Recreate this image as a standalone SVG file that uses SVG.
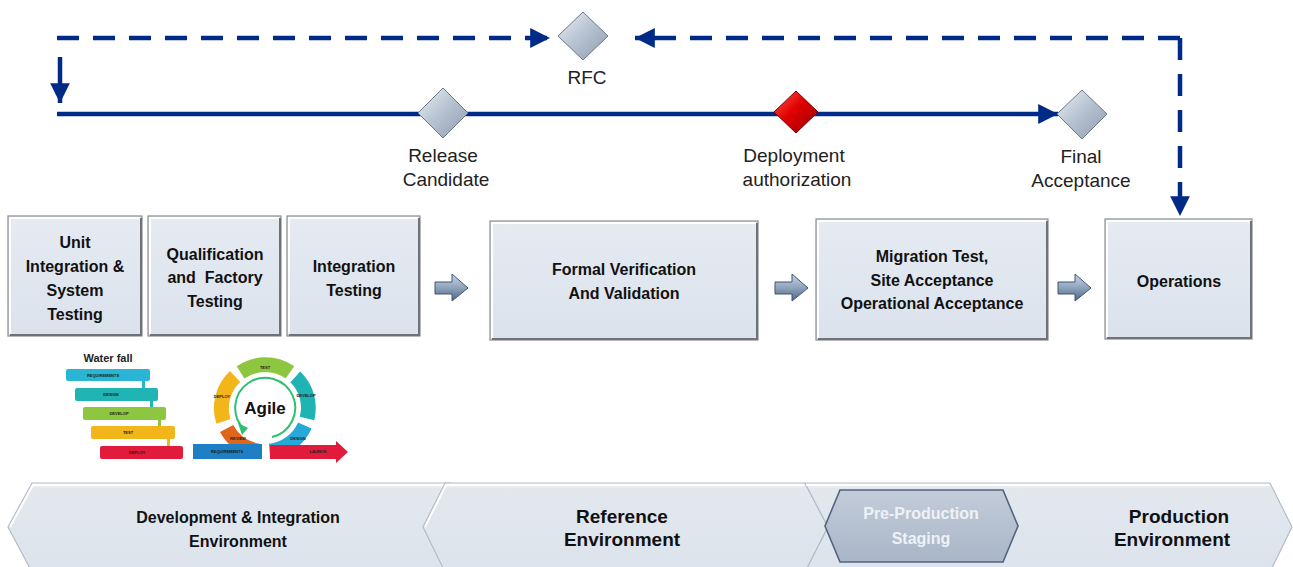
<svg xmlns="http://www.w3.org/2000/svg" width="1293" height="567" viewBox="0 0 1293 567">
  <defs>
    <linearGradient id="gDiamond" x1="0" y1="0" x2="1" y2="1">
      <stop offset="0" stop-color="#eef2f6"/>
      <stop offset="0.45" stop-color="#b9c5d3"/>
      <stop offset="1" stop-color="#8e9cae"/>
    </linearGradient>
    <linearGradient id="gRed" x1="0" y1="0" x2="1" y2="1">
      <stop offset="0" stop-color="#ff5a50"/>
      <stop offset="0.45" stop-color="#e00000"/>
      <stop offset="1" stop-color="#9a0000"/>
    </linearGradient>
    <linearGradient id="gArrow" x1="0" y1="0" x2="0" y2="1">
      <stop offset="0" stop-color="#c9d6e4"/>
      <stop offset="0.5" stop-color="#8fa4bd"/>
      <stop offset="1" stop-color="#4f6683"/>
    </linearGradient>
    <linearGradient id="gBox" x1="0" y1="0" x2="0" y2="1">
      <stop offset="0" stop-color="#e6ebf2"/>
      <stop offset="1" stop-color="#dbe2ec"/>
    </linearGradient>
    <linearGradient id="gBand" x1="0" y1="0" x2="0" y2="1">
      <stop offset="0" stop-color="#f4f6f9"/>
      <stop offset="0.06" stop-color="#e3e8ef"/>
      <stop offset="1" stop-color="#dce3ec"/>
    </linearGradient>
    <linearGradient id="gStage" x1="0" y1="0" x2="0" y2="1">
      <stop offset="0" stop-color="#c3ccd9"/>
      <stop offset="1" stop-color="#a9b6c8"/>
    </linearGradient>
    <marker id="ah" viewBox="0 0 10 10" refX="10" refY="5" markerWidth="5" markerHeight="4.4" markerUnits="strokeWidth" orient="auto">
      <path d="M0,0 L10,5 L0,10 Z" fill="#002a87"/>
    </marker>
    <marker id="ahs" viewBox="0 0 10 10" refX="10" refY="5" markerWidth="5" markerHeight="4.4" markerUnits="strokeWidth" orient="auto">
      <path d="M0,0 L10,5 L0,10 Z" fill="#002a87"/>
    </marker>
    <style>
      .lbl { font-family: "Liberation Sans", Arial, sans-serif; font-size: 19px; fill: #222; text-anchor: middle; }
      .box { fill: url(#gBox); stroke: #8a8d92; stroke-width: 1.2; }
      .hi { fill: none; stroke: #ffffff; stroke-width: 2; }
      .sh { fill: none; stroke: #6f7378; stroke-width: 2; }
      .bt { font-family: "Liberation Sans", Arial, sans-serif; font-weight: bold; font-size: 16px; fill: #111; text-anchor: middle; }
      .bt2 { font-family: "Liberation Sans", Arial, sans-serif; font-weight: bold; font-size: 19px; fill: #111; text-anchor: middle; }
      .band { fill: url(#gBand); stroke: #b5bcc6; stroke-width: 1.2; }
      .dash { fill: none; stroke: #002a87; stroke-width: 4.5; stroke-dasharray: 22 14; }
      .solid { fill: none; stroke: #002a87; stroke-width: 4.5; }
      .blk { fill: url(#gArrow); stroke: #3f5572; stroke-width: 1; }
      .dia { fill: url(#gDiamond); stroke: #6b7888; stroke-width: 1; }
      .tiny { font-family: "Liberation Sans", Arial, sans-serif; font-size: 4px; fill: #1a1a1a; text-anchor: middle; font-weight: bold; }
    </style>
  </defs>

  <rect width="1293" height="567" fill="#ffffff"/>

  <!-- connectors: feedback loop and main timeline -->
  <g id="connectors">
    <path class="dash" d="M57,38 H550" marker-end="url(#ah)"/>
    <path class="dash" d="M1180,38 H635" marker-end="url(#ah)"/>
    <path class="dash" d="M1180,38 V216" marker-end="url(#ah)"/>
    <path class="solid" d="M60,57 V103" marker-end="url(#ah)"/>
    <path class="solid" d="M57,114 H1058" marker-end="url(#ahs)"/>
  </g>

  <!-- milestones -->
  <g id="rfc">
    <path class="dia" d="M583,12 L608,36 L583,60 L558,36 Z"/>
    <text class="lbl" x="587" y="84">RFC</text>
  </g>
  <g id="release-candidate">
    <path class="dia" d="M443,88 L468,113 L443,138 L418,113 Z"/>
    <text class="lbl" x="443" y="162">Release</text>
    <text class="lbl" x="446" y="186">Candidate</text>
  </g>
  <g id="deployment-authorization">
    <path d="M796,91 L818,112 L796,133 L774,112 Z" fill="url(#gRed)" stroke="#7a0000" stroke-width="1"/>
    <text class="lbl" x="794" y="162">Deployment</text>
    <text class="lbl" x="797" y="186">authorization</text>
  </g>
  <g id="final-acceptance">
    <path class="dia" d="M1082,90 L1107,114 L1082,139 L1057,114 Z"/>
    <text class="lbl" x="1081" y="163">Final</text>
    <text class="lbl" x="1081" y="187">Acceptance</text>
  </g>

  <!-- test stages -->
  <g id="unit-integration">
    <rect class="box" x="8" y="216" width="134" height="120"/>
    <path class="hi" d="M10,334 V218 H140"/>
    <path class="sh" d="M10,335 H141 V218"/>
    <text class="bt" x="75" y="248">Unit</text>
    <text class="bt" x="75" y="272">Integration &amp;</text>
    <text class="bt" x="75" y="296">System</text>
    <text class="bt" x="75" y="320">Testing</text>
  </g>
  <g id="qualification">
    <rect class="box" x="148" y="216" width="133" height="120"/>
    <path class="hi" d="M150,334 V218 H279"/>
    <path class="sh" d="M150,335 H280 V218"/>
    <text class="bt" x="215" y="260">Qualification</text>
    <text class="bt" x="215" y="283" xml:space="preserve">and  Factory</text>
    <text class="bt" x="215" y="307">Testing</text>
  </g>
  <g id="integration-testing">
    <rect class="box" x="287" y="216" width="133" height="120"/>
    <path class="hi" d="M289,334 V218 H418"/>
    <path class="sh" d="M289,335 H419 V218"/>
    <text class="bt" x="354" y="272">Integration</text>
    <text class="bt" x="354" y="296">Testing</text>
  </g>
  <g id="formal-verification">
    <rect class="box" x="490" y="221" width="268" height="119"/>
    <path class="hi" d="M492,338 V223 H756"/>
    <path class="sh" d="M492,339 H757 V223"/>
    <text class="bt" x="624" y="275">Formal Verification</text>
    <text class="bt" x="624" y="299">And Validation</text>
  </g>
  <g id="migration-test">
    <rect class="box" x="816" y="219" width="232" height="121"/>
    <path class="hi" d="M818,338 V221 H1046"/>
    <path class="sh" d="M818,339 H1047 V221"/>
    <text class="bt" x="932" y="262">Migration Test,</text>
    <text class="bt" x="932" y="286">Site Acceptance</text>
    <text class="bt" x="932" y="309">Operational Acceptance</text>
  </g>
  <g id="operations">
    <rect class="box" x="1105" y="219" width="147" height="120"/>
    <path class="hi" d="M1107,337 V221 H1250"/>
    <path class="sh" d="M1107,338 H1251 V221"/>
    <text class="bt" x="1179" y="287">Operations</text>
  </g>

  <!-- block arrows between stages -->
  <g id="stage-arrows">
    <path class="blk" d="M435,282 H452 V274 L468,288 L452,301 V294 H435 Z"/>
    <path class="blk" d="M775,282 H792 V274 L808,288 L792,301 V294 H775 Z"/>
    <path class="blk" d="M1058,282 H1075 V274 L1091,288 L1075,301 V294 H1058 Z"/>
  </g>

  <!-- waterfall illustration -->
  <g id="waterfall">
    <text x="108" y="362" font-family="Liberation Sans, Arial, sans-serif" font-weight="bold" font-size="11" fill="#222" text-anchor="middle">Water fall</text>
    <rect x="142" y="380" width="3" height="9" fill="#2bb5d4"/>
    <rect x="150" y="400" width="3" height="9" fill="#21b4b4"/>
    <rect x="158" y="419" width="3" height="9" fill="#8dc63f"/>
    <rect x="167" y="438" width="3" height="9" fill="#f2b51a"/>
    <rect x="66" y="369" width="84" height="12" rx="2" fill="#2bb5d4"/>
    <rect x="75" y="388" width="83" height="13" rx="2" fill="#21b4b4"/>
    <rect x="83" y="407" width="83" height="13" rx="2" fill="#8dc63f"/>
    <rect x="91" y="426" width="84" height="13" rx="2" fill="#f2b51a"/>
    <rect x="100" y="446" width="83" height="13" rx="2" fill="#e31b3b"/>
    <text class="tiny" x="103" y="377">REQUIREMENTS</text>
    <text class="tiny" x="111" y="396">DESIGN</text>
    <text class="tiny" x="119" y="415">DEVELOP</text>
    <text class="tiny" x="128" y="434">TEST</text>
    <text class="tiny" x="137" y="454">DEPLOY</text>
  </g>

  <!-- agile cycle illustration -->
  <g id="agile">
    <!-- ring segments, centre (265,408), r 51 / 36 -->
    <path d="M236.7,366.2 A51,51 0 0 1 294.3,366.2 L285.6,378.5 A36,36 0 0 0 244.4,378.5 Z" fill="#8dc63f"/>
    <path d="M300.3,371.5 A51,51 0 0 1 314.3,420.2 L299.8,416.8 A36,36 0 0 0 290.4,382.2 Z" fill="#1fb3b3"/>
    <path d="M311.6,428.6 A51,51 0 0 1 270.3,458.7 L268.9,443.8 A36,36 0 0 0 298.0,422.4 Z" fill="#27a9d8"/>
    <path d="M257.0,458.4 A51,51 0 0 1 220.0,432.0 L233.2,425.0 A36,36 0 0 0 259.3,443.6 Z" fill="#e0661c"/>
    <path d="M216.4,423.8 A51,51 0 0 1 229.9,371.0 L240.2,381.9 A36,36 0 0 0 230.5,419.1 Z" fill="#f2b51a"/>
    <!-- inner circular arrow -->
    <path d="M272,437 A30,30 0 1 0 244,429" fill="none" stroke="#2fbf71" stroke-width="2"/>
    <path d="M238,423 L248,428 L242,435 Z" fill="#2fbf71"/>
    <text x="265" y="414" font-family="Liberation Sans, Arial, sans-serif" font-weight="bold" font-size="17" fill="#111" text-anchor="middle">Agile</text>
    <!-- requirements bar and launch arrow -->
    <rect x="193" y="444" width="69" height="15" fill="#1e7fc4"/>
    <path d="M270,445 H336 V441 L348,452 L336,463 V459 H270 Z" fill="#e31b3b"/>
    <text class="tiny" x="265" y="369">TEST</text>
    <text class="tiny" x="306" y="397">DEVELOP</text>
    <text class="tiny" x="298" y="440">DESIGN</text>
    <text class="tiny" x="238" y="440">REVIEW</text>
    <text class="tiny" x="222" y="398">DEPLOY</text>
    <text class="tiny" x="227" y="453">REQUIREMENTS</text>
    <text class="tiny" x="318" y="453">LAUNCH</text>
  </g>

  <!-- environment band -->
  <g id="dev-environment">
    <path class="band" d="M8,527 L32,483 H450 V572 H32 Z"/>
    <path d="M10,527 L33,485 H448" fill="none" stroke="#ffffff" stroke-width="2"/>
    <text class="bt" x="238" y="523">Development &amp; Integration</text>
    <text class="bt" x="238" y="547">Environment</text>
  </g>
  <g id="reference-environment">
    <path class="band" d="M423,527 L445,483 H805 L828,527 L805,572 H445 Z"/>
    <path d="M425,527 L446,485 H804" fill="none" stroke="#ffffff" stroke-width="2"/>
    <text class="bt2" x="622" y="523">Reference</text>
    <text class="bt2" x="622" y="546">Environment</text>
  </g>
  <g id="production-environment">
    <path class="band" d="M805,483 H1270 L1292,527 L1270,572 H805 L828,527 Z"/>
    <path d="M806,485 H1269" fill="none" stroke="#ffffff" stroke-width="2"/>
    <text class="bt2" x="1179" y="523">Production</text>
    <text class="bt2" x="1172" y="546">Environment</text>
  </g>
  <g id="pre-production-staging">
    <path d="M825,526 L840,490 H1003 L1018,526 L1003,562 H840 Z" fill="url(#gStage)" stroke="#52647d" stroke-width="1.6"/>
    <text x="921" y="519" font-family="Liberation Sans, Arial, sans-serif" font-weight="bold" font-size="16" fill="#eef2f7" text-anchor="middle">Pre-Production</text>
    <text x="921" y="544" font-family="Liberation Sans, Arial, sans-serif" font-weight="bold" font-size="16" fill="#eef2f7" text-anchor="middle">Staging</text>
  </g>
</svg>
